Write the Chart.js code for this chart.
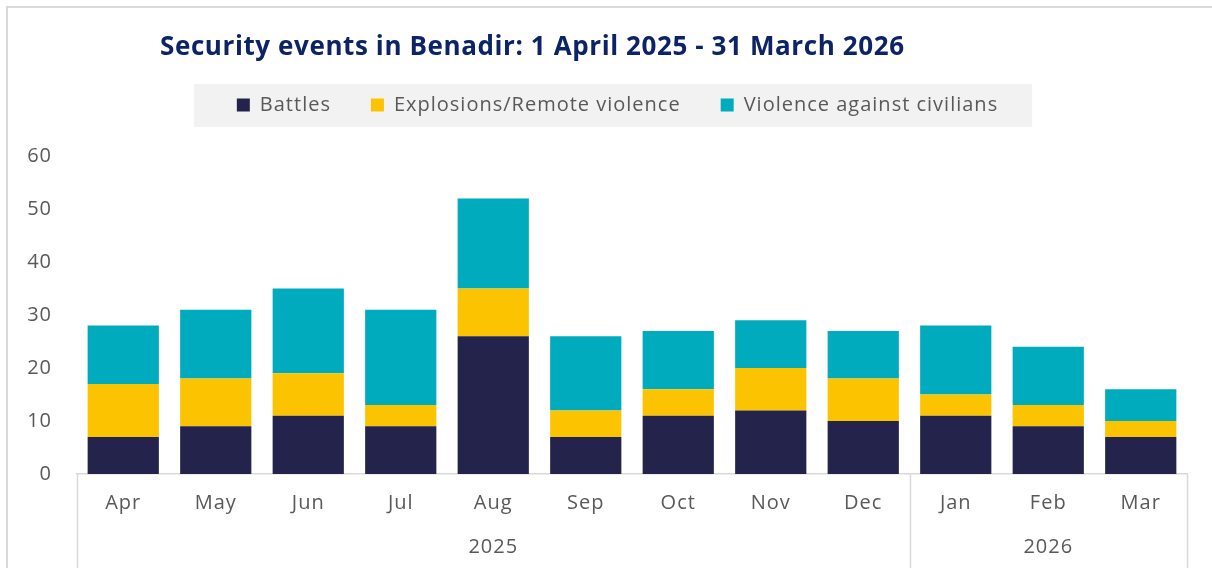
<!DOCTYPE html>
<html>
<head>
<meta charset="utf-8">
<script src="https://cdn.jsdelivr.net/npm/chart.js@4"></script>
<style>
    body { margin: 0; background: #fff; }
    #wrap { position: relative; width: 1212px; height: 568px; overflow: hidden; }
    #frame { position: absolute; left: 6px; top: 6px; right: -10px; bottom: -10px;
             border-top: 2px solid #d9d9d9; border-left: 2px solid #d9d9d9; pointer-events: none; }
    #chart-title { position: absolute; left: 160px; top: 27px; margin: 0; letter-spacing: 0.6px; line-height: normal;
                   font: 700 26px "Open Sans", sans-serif; color: #0c2466; white-space: nowrap; }
    canvas { position: absolute; left: 0; top: 0; }
</style>
</head>
<body>
<div id="wrap">
    <canvas id="chart-benadir" width="1212" height="568"></canvas>
    <div id="frame"></div>
    <h1 id="chart-title">Security events in Benadir: 1 April 2025 - 31 March 2026</h1>
</div>
<script>
// Data
const months = ["Apr", "May", "Jun", "Jul", "Aug", "Sep", "Oct", "Nov", "Dec", "Jan", "Feb", "Mar"];
const monthYears = ["2025", "2025", "2025", "2025", "2025", "2025", "2025", "2025", "2025", "2026", "2026", "2026"];
const battles = [7, 9, 11, 9, 26, 7, 11, 12, 10, 11, 9, 7];
const explosions = [10, 9, 8, 4, 9, 5, 5, 8, 8, 4, 4, 3];
const violenceCivilians = [11, 13, 16, 18, 17, 14, 11, 9, 9, 13, 11, 6];
const yMax = 60;
const yStep = 10;

const GREY_TEXT = "#595959";
const GREY_LINE = "#d9d9d9";
const FONT = "'Open Sans', sans-serif";
const SPACING = "1px"; // reference font runs wider than Open Sans

// canvas gets reset on init, so set the letter spacing again before layout/draw
const spacingPlugin = {
    id: "spacing",
    beforeUpdate(chart) { chart.ctx.letterSpacing = SPACING; },
    beforeDraw(chart) { chart.ctx.letterSpacing = SPACING; }
};

// grey background behind the legend + taller legend box so plot starts lower
const legendBoxPlugin = {
    id: "legendBox",
    beforeInit(chart) {
        const origFit = chart.legend.fit;
        chart.legend.fit = function () {
            origFit.call(this);
            this.height += 31;
        };
    },
    afterUpdate(chart) {
        // nudge legend a bit to the right like the reference
        const shift = 14;
        chart.legend.left += shift;
        chart.legend.right += shift;
        (chart.legend.legendHitBoxes || []).forEach(h => { h.left += shift; });
    },
    beforeDraw(chart) {
        const boxes = chart.legend.legendHitBoxes;
        if (!boxes || !boxes.length) return;
        const first = boxes[0], last = boxes[boxes.length - 1];
        const ctx = chart.ctx;
        ctx.save();
        ctx.fillStyle = "#f2f2f2";
        const x0 = first.left - 43, x1 = last.left + last.width + 34;
        ctx.fillRect(x0, first.top - 11, x1 - x0, 43);
        ctx.restore();
    }
};

// year grouping under the month labels
const yearAxisPlugin = {
    id: "yearAxis",
    afterDraw(chart) {
        const x = chart.scales.x;
        const area = chart.chartArea;
        const ctx = chart.ctx;
        const bounds = [area.left];
        const groups = [];
        let start = 0;
        for (let i = 1; i <= monthYears.length; i++) {
            if (i === monthYears.length || monthYears[i] !== monthYears[start]) {
                const right = i === monthYears.length
                    ? area.right
                    : (x.getPixelForValue(i - 1) + x.getPixelForValue(i)) / 2;
                groups.push({ label: monthYears[start], left: bounds[bounds.length - 1], right: right });
                bounds.push(right);
                start = i;
            }
        }
        ctx.save();
        ctx.strokeStyle = GREY_LINE;
        ctx.lineWidth = 1.5;
        bounds.forEach(bx => {
            ctx.beginPath();
            ctx.moveTo(Math.round(bx) + 0.5, area.bottom);
            ctx.lineTo(Math.round(bx) + 0.5, chart.height);
            ctx.stroke();
        });
        ctx.fillStyle = GREY_TEXT;
        ctx.font = "20px " + FONT;
        ctx.textAlign = "center";
        ctx.textBaseline = "middle";
        groups.forEach(g => ctx.fillText(g.label, (g.left + g.right) / 2, area.bottom + 73));
        ctx.restore();
    }
};

const ctx = document.getElementById("chart-benadir").getContext("2d");

new Chart(ctx, {
    type: "bar",
    data: {
        labels: months,
        datasets: [
            { label: "Battles", data: battles, backgroundColor: "#24234c" },
            { label: "Explosions/Remote violence", data: explosions, backgroundColor: "#fcc400" },
            { label: "Violence against civilians", data: violenceCivilians, backgroundColor: "#00abbe" }
        ]
    },
    options: {
        responsive: false,
        animation: false,
        layout: { padding: { top: 55, left: 20, right: 25, bottom: 0 } },
        datasets: { bar: { categoryPercentage: 1, barPercentage: 0.77 } },
        plugins: {
            title: { display: false },
            tooltip: { enabled: false },
            legend: {
                position: "top",
                labels: {
                    boxWidth: 13,
                    boxHeight: 13,
                    padding: 40,
                    color: GREY_TEXT,
                    font: { family: FONT, size: 20 }
                }
            }
        },
        scales: {
            x: {
                stacked: true,
                grid: { display: false, drawTicks: false },
                border: { display: true, color: GREY_LINE, width: 1.5 },
                ticks: { color: GREY_TEXT, padding: 17, font: { family: FONT, size: 20 } },
                afterFit(scale) { scale.height = 94; }
            },
            y: {
                stacked: true,
                min: 0,
                max: yMax,
                grid: { display: false, drawTicks: false },
                border: { display: false },
                ticks: { stepSize: yStep, color: GREY_TEXT, padding: 25, font: { family: FONT, size: 20 } },
                afterFit(scale) { scale.width = 57; }
            }
        }
    },
    plugins: [spacingPlugin, legendBoxPlugin, yearAxisPlugin]
});
</script>
</body>
</html>
